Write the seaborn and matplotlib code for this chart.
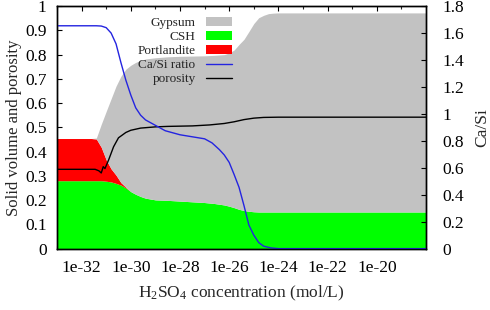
import numpy as np
import pandas as pd
import matplotlib
matplotlib.use("Agg")
import matplotlib.pyplot as plt
from matplotlib.patches import Patch
from matplotlib.lines import Line2D
from matplotlib.ticker import FixedLocator, FuncFormatter
import seaborn as sns

# log10 of H2SO4 concentration (mol/L), common grid for the stacked solids
solid_logc = [-33.0, -31.6, -31.4, -31.2, -31.0, -30.8, -30.6, -30.4, -30.2, -30.0,
              -29.8, -29.6, -29.4, -29.0, -28.5, -28.0, -27.5, -27.0, -26.6, -26.2,
              -26.0, -25.8, -25.6, -25.4, -25.2, -25.0, -24.8, -24.6, -24.4, -24.2,
              -24.0, -18.0]
csh = [0.280, 0.280, 0.280, 0.280, 0.278, 0.275, 0.269, 0.262, 0.250, 0.235,
       0.224, 0.215, 0.208, 0.201, 0.199, 0.196, 0.193, 0.190, 0.186, 0.180,
       0.175, 0.169, 0.162, 0.157, 0.154, 0.152, 0.151, 0.151, 0.151, 0.151,
       0.151, 0.151]
portlandite = [0.174, 0.174, 0.172, 0.138, 0.088, 0.054, 0.034, 0.010, 0.003, 0.0,
               0.0, 0.0, 0.0, 0.0, 0.0, 0.0, 0.0, 0.0, 0.0, 0.0,
               0.0, 0.0, 0.0, 0.0, 0.0, 0.0, 0.0, 0.0, 0.0, 0.0,
               0.0, 0.0]
gypsum = [0.0, 0.0, 0.004, 0.095, 0.200, 0.289, 0.367, 0.439, 0.487, 0.521,
          0.544, 0.561, 0.574, 0.586, 0.592, 0.597, 0.601, 0.605, 0.611, 0.620,
          0.632, 0.650, 0.680, 0.706, 0.741, 0.776, 0.801, 0.811, 0.818, 0.820,
          0.821, 0.821]

# porosity (left axis)
por_logc = [-33.0, -31.45, -31.3, -31.2, -31.12, -31.05, -30.9, -30.7, -30.5, -30.2,
            -30.0, -29.6, -29.0, -28.5, -27.5, -26.8, -26.2, -25.8, -25.4, -25.0,
            -24.6, -24.0, -18.0]
porosity = [0.327, 0.327, 0.321, 0.312, 0.338, 0.330, 0.366, 0.420, 0.457, 0.479,
            0.488, 0.497, 0.502, 0.504, 0.506, 0.510, 0.516, 0.523, 0.532, 0.538,
            0.541, 0.542, 0.542]

# Ca/Si ratio (right axis)
casi_logc = [-33.0, -31.4, -31.2, -31.0, -30.8, -30.6, -30.4, -30.2, -30.0, -29.8,
             -29.6, -29.4, -29.1, -28.6, -28.0, -27.5, -27.0, -26.7, -26.4, -26.2,
             -26.0, -25.8, -25.6, -25.4, -25.2, -25.0, -24.8, -24.6, -24.3, -24.0,
             -18.0]
ca_si = [1.654, 1.654, 1.652, 1.640, 1.600, 1.520, 1.380, 1.250, 1.140, 1.045,
         0.990, 0.955, 0.925, 0.875, 0.845, 0.830, 0.815, 0.785, 0.735, 0.695,
         0.640, 0.550, 0.455, 0.320, 0.175, 0.100, 0.045, 0.018, 0.005, 0.0,
         0.0]

x_major = [-32, -30, -28, -26, -24, -22, -20]
x_minor = [-33, -31, -29, -27, -25, -23, -21, -19]

sns.set_theme(style="ticks")
plt.rcParams['font.family'] = ['Liberation Serif', 'DejaVu Serif']
plt.rcParams['mathtext.fontset'] = 'custom'
plt.rcParams['mathtext.rm'] = 'Liberation Serif'
plt.rcParams['mathtext.it'] = 'Liberation Serif:italic'
plt.rcParams['axes.edgecolor'] = 'black'
plt.rcParams['axes.linewidth'] = 1.0

fig = plt.figure(figsize=(4.9, 3.1), dpi=100)
ax = fig.add_axes([0.1163, 0.198, 0.7531, 0.7823])
ax.set_xscale('log')
ax.set_axisbelow(True)

conc = 10.0 ** np.array(solid_logc)
ax.stackplot(conc, csh, portlandite, gypsum,
             colors=['#00ff00', '#ff0000', '#c2c2c2'], linewidth=0)

df_por = pd.DataFrame({'conc': 10.0 ** np.array(por_logc), 'porosity': porosity})
sns.lineplot(data=df_por, x='conc', y='porosity', ax=ax, color='black',
             linewidth=1.0, sort=False, legend=False)

ax2 = ax.twinx()
df_casi = pd.DataFrame({'conc': 10.0 ** np.array(casi_logc), 'ca_si': ca_si})
sns.lineplot(data=df_casi, x='conc', y='ca_si', ax=ax2, color='#2424e0',
             linewidth=1.0, sort=False, legend=False)

ax.set_xlim(1e-33, 1e-18)
ax.set_ylim(0, 1)
ax2.set_ylim(0, 1.8)

ax.xaxis.set_major_locator(FixedLocator([10.0 ** k for k in x_major]))
ax.xaxis.set_minor_locator(FixedLocator([10.0 ** k for k in x_minor]))
ax.xaxis.set_major_formatter(FuncFormatter(lambda v, p: f"1e{int(round(np.log10(v)))}"))
ax.xaxis.set_minor_formatter(FuncFormatter(lambda v, p: ""))
ax.yaxis.set_major_locator(FixedLocator(np.round(np.arange(0, 1.01, 0.1), 1)))
ax.yaxis.set_major_formatter(FuncFormatter(lambda v, p: f"{v:g}"))
ax2.yaxis.set_major_locator(FixedLocator(np.round(np.arange(0, 1.81, 0.2), 1)))
ax2.yaxis.set_major_formatter(FuncFormatter(lambda v, p: f"{v:g}"))

ax.tick_params(axis='x', which='major', direction='in', top=True, bottom=True,
               length=3.5, width=0.8, pad=8, labelsize=12.5, colors='black')
ax.tick_params(axis='x', which='minor', direction='in', top=True, bottom=True,
               length=2, width=0.8)
ax.tick_params(axis='y', which='both', direction='in', left=True, right=False,
               length=3.5, width=0.8, pad=7.5, labelsize=12.5, colors='black')
ax2.tick_params(axis='y', direction='in', length=3.5, width=0.8, pad=12,
                labelsize=12.5, colors='black')

ax.set_xlabel('H$_2$SO$_4$ concentration (mol/L)', fontsize=12.5)
ax.set_ylabel('Solid volume and porosity', fontsize=12)
ax2.set_ylabel('Ca/Si', fontsize=12.5)
ax.xaxis.set_label_coords(0.5, -0.145)
ax.yaxis.set_label_coords(-0.095, 0.5)
ax2.yaxis.set_label_coords(1.13, 0.5)

handles = [Patch(facecolor='#c2c2c2', edgecolor='none'),
           Patch(facecolor='#00ff00', edgecolor='none'),
           Patch(facecolor='#ff0000', edgecolor='none'),
           Line2D([], [], color='#2424e0', lw=1.0),
           Line2D([], [], color='black', lw=1.0)]
labels = ['Gypsum', 'CSH', 'Portlandite', 'Ca/Si ratio', 'porosity']
ax2.legend(handles, labels, loc='upper right', bbox_to_anchor=(0.474, 0.955),
           frameon=False, markerfirst=False, fontsize=9.5, handlelength=2.0,
           handleheight=0.6, handletextpad=0.75, labelspacing=0.16,
           borderaxespad=0, borderpad=0)

fig.savefig('out.png', dpi=100)
